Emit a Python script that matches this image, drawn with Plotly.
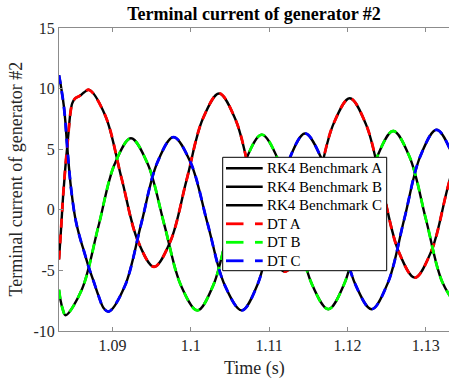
import plotly.graph_objects as go

# ---- data ----
t_a = [1.08316, 1.08342, 1.08367, 1.08397, 1.08431, 1.08460, 1.08486, 1.08524, 1.08566,
       1.08601, 1.08639, 1.08700, 1.08908, 1.09115, 1.09323, 1.09530, 1.09738, 1.09945,
       1.10153, 1.10360, 1.10570, 1.10780, 1.10990, 1.11200, 1.11408, 1.11615, 1.11823,
       1.12030, 1.12238, 1.12445, 1.12653, 1.12860, 1.13068, 1.13275, 1.13483]
i_a = [-4.1, -1.6, 1.0, 3.5, 5.9, 7.9, 8.8, 9.2, 9.35,
       9.5, 9.7, 9.9, 7.76, 2.6, -2.56, -4.7, -2.61, 2.45,
       7.51, 9.6, 7.45, 2.25, -2.95, -5.1, -3.01, 2.05, 7.11,
       9.2, 7.03, 1.8, -3.43, -5.6, -3.46, 1.7, 6.86]

t_b = [1.08316, 1.08337, 1.08359, 1.08400, 1.08609, 1.08818, 1.09026, 1.09235, 1.09447,
       1.09660, 1.09872, 1.10084, 1.10289, 1.10495, 1.10700, 1.10905, 1.11118, 1.11330,
       1.11543, 1.11755, 1.11963, 1.12170, 1.12378, 1.12585, 1.12794, 1.13003, 1.13211,
       1.13420]
i_b = [-6.6, -7.5, -8.1, -8.7, -6.56, -1.4, 3.76, 5.9, 3.82,
       -1.2, -6.22, -8.3, -6.18, -1.05, 4.08, 6.2, 4.09, -1.0,
       -6.09, -8.2, -6.05, -0.85, 4.35, 6.5, 4.36, -0.8, -5.96,
       -8.1]

t_c = [1.08316, 1.08333, 1.08355, 1.08375, 1.08397, 1.08416, 1.08442, 1.08473, 1.08524,
       1.08579, 1.08639, 1.08694, 1.08758, 1.08821, 1.08885, 1.08950, 1.09157, 1.09364,
       1.09571, 1.09778, 1.09996, 1.10214, 1.10432, 1.10650, 1.10852, 1.11054, 1.11256,
       1.11458, 1.11671, 1.11884, 1.12096, 1.12309, 1.12516, 1.12724, 1.12931, 1.13138,
       1.13346, 1.13554]
i_c = [11.1, 10.5, 9.6, 8.7, 7.3, 5.6, 3.6, 1.6, -0.7,
       -2.2, -3.5, -4.7, -5.9, -7.1, -8.1, -8.4, -6.29, -1.2,
       3.89, 6.0, 3.91, -1.15, -6.21, -8.3, -6.16, -1.0, 4.16,
       6.3, 4.18, -0.95, -6.08, -8.2, -6.03, -0.8, 4.43, 6.6,
       4.45, -0.75]

x_ticks = [1.09, 1.10, 1.11, 1.12, 1.13]
x_tick_labels = ["1.09", "1.1", "1.11", "1.12", "1.13"]
y_ticks = [-10, -5, 0, 5, 10, 15]
y_tick_labels = ["-10", "-5", "0", "5", "10", "15"]

rk4_names = ["RK4 Benchmark A", "RK4 Benchmark B", "RK4 Benchmark C"]
dt_names = ["DT A", "DT B", "DT C"]
dt_colors = ["#ff0000", "#00ff00", "#0000ff"]

FONT = "Liberation Serif"

series = [(t_a, i_a), (t_b, i_b), (t_c, i_c)]

fig = go.Figure()
for (t, v), name in zip(series, rk4_names):
    fig.add_trace(go.Scatter(x=t, y=v, mode="lines", name=name, showlegend=False,
                             line=dict(color="black", width=2.4, shape="spline", smoothing=1.0)))
for (t, v), name, col in zip(series, dt_names, dt_colors):
    fig.add_trace(go.Scatter(x=t, y=v, mode="lines", name=name, showlegend=False,
                             line=dict(color=col, width=2.8, dash="9px,7px",
                                       shape="spline", smoothing=1.0)))

# ---- plot-area geometry (pixels) ----
W, H = 449, 381
ML, MR, MT, MB = 59, 0, 28, 50
PW, PH = W - ML - MR, H - MT - MB


def px(x):
    return (x - ML) / PW


def py(y):
    return (H - MB - y) / PH


# ---- hand-drawn legend (MATLAB style: compact rows) ----
shapes = [dict(type="rect", xref="paper", yref="paper",
               x0=px(222.7), x1=px(386.7), y0=py(270.7), y1=py(157.3),
               line=dict(color="black", width=1), fillcolor="white", layer="above")]
annotations = []
row0, step = 168.3, 18.5
legend_entries = [(n, "black", False) for n in rk4_names] + \
                 [(n, c, True) for n, c in zip(dt_names, dt_colors)]
for k, (name, col, dashed) in enumerate(legend_entries):
    yc = row0 + step * k
    if dashed:
        segs = [(226.0, 243.5), (255.0, 262.7)]
        w = 2.8
    else:
        segs = [(226.0, 262.7)]
        w = 2.4
    for a, b in segs:
        shapes.append(dict(type="line", xref="paper", yref="paper",
                           x0=px(a), x1=px(b), y0=py(yc), y1=py(yc),
                           line=dict(color=col, width=w), layer="above"))
    annotations.append(dict(text=name, xref="paper", yref="paper", x=px(265), y=py(yc),
                            xanchor="left", yanchor="middle", showarrow=False,
                            font=dict(family=FONT, size=15, color="black")))

annotations += [
    dict(text="Time (s)", xref="paper", yref="paper", x=0.5, y=0, yshift=-37,
         xanchor="center", yanchor="middle", showarrow=False,
         font=dict(family=FONT, size=18, color="#262626")),
    dict(text="Terminal current of generator #2", xref="paper", yref="paper",
         x=0, y=0.5, xshift=-44, textangle=-90, xanchor="center", yanchor="middle",
         showarrow=False, font=dict(family=FONT, size=18, color="#262626")),
]

axis_common = dict(
    showgrid=False, zeroline=False, showline=True, linecolor="#8c8c8c", linewidth=1,
    ticks="inside", ticklen=4, tickcolor="#8c8c8c",
    tickfont=dict(family=FONT, size=16, color="#262626"),
)

fig.update_layout(
    width=W, height=H,
    margin=dict(l=ML, r=MR, t=MT, b=MB),
    paper_bgcolor="white", plot_bgcolor="white",
    font=dict(family=FONT, color="#262626"),
    title=dict(text="<b>Terminal current of generator #2</b>",
               font=dict(family=FONT, size=18, color="black"),
               x=0.5, xref="paper", xanchor="center",
               y=1 - 13.5 / H, yref="container", yanchor="middle"),
    xaxis=dict(range=[1.08316, 1.13297], tickvals=x_ticks, ticktext=x_tick_labels,
               mirror="ticks", **axis_common),
    yaxis=dict(range=[-10, 15], tickvals=y_ticks, ticktext=y_tick_labels,
               mirror=False, **axis_common),
    showlegend=False,
    shapes=shapes,
    annotations=annotations,
)

fig.write_html("out.html")
